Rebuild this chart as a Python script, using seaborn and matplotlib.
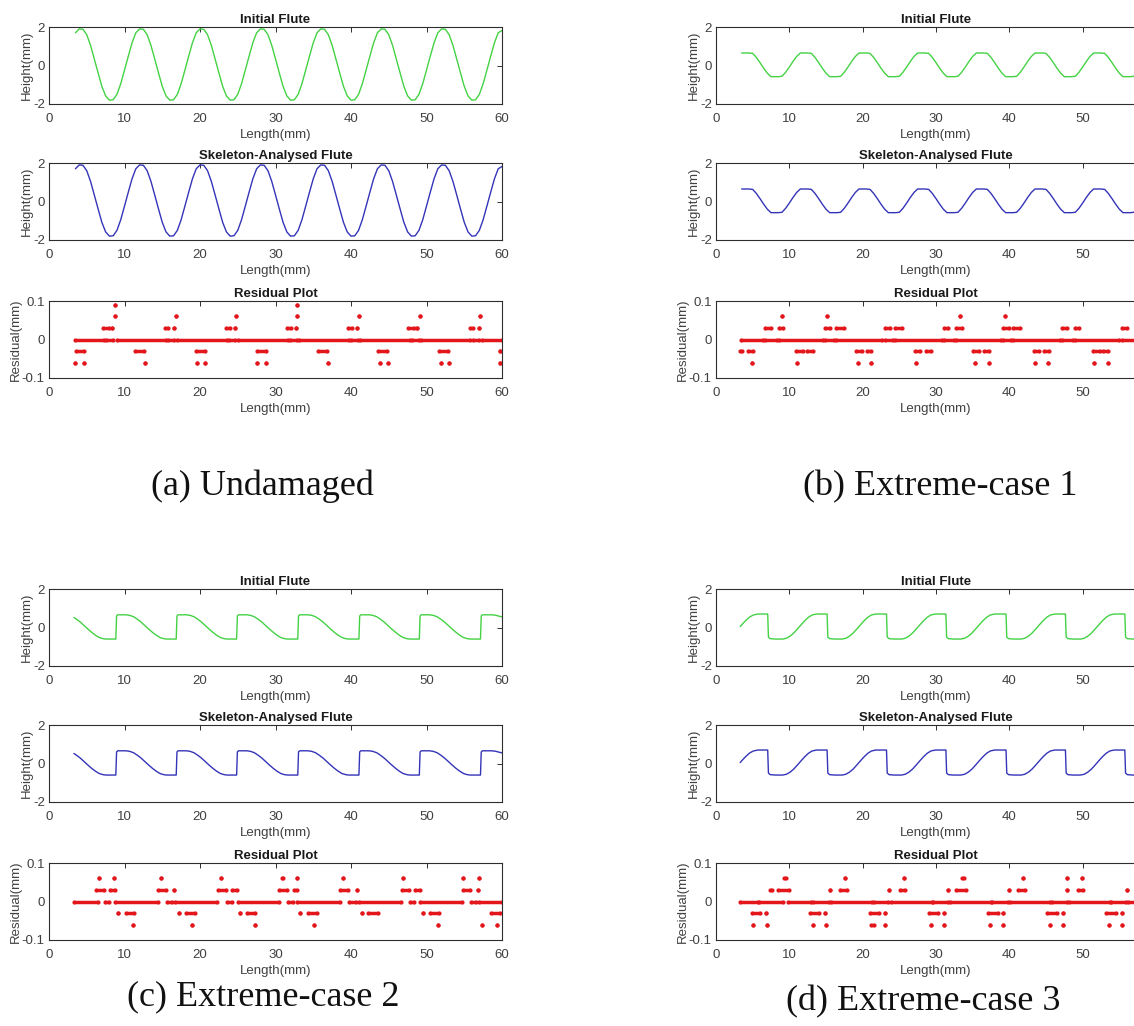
import numpy as np
import pandas as pd
import seaborn as sns
import matplotlib.pyplot as plt

# sample positions along the flute (mm) for the two smooth profiles
grid_mm = np.arange(3.5, 60.01, 0.5)

# (a) undamaged flute height (mm)
height_a = [1.70, 1.90, 1.88, 1.60, 1.05, 0.34, -0.38, -1.08, -1.58, -1.80, -1.78, -1.50, -0.95, -0.24, 0.48, 1.18,
            1.70, 1.90, 1.88, 1.60, 1.05, 0.34, -0.38, -1.08, -1.58, -1.80, -1.78, -1.50, -0.95, -0.24, 0.48, 1.18,
            1.70, 1.90, 1.88, 1.60, 1.05, 0.34, -0.38, -1.08, -1.58, -1.80, -1.78, -1.50, -0.95, -0.24, 0.48, 1.18,
            1.70, 1.90, 1.88, 1.60, 1.05, 0.34, -0.38, -1.08, -1.58, -1.80, -1.78, -1.50, -0.95, -0.24, 0.48, 1.18,
            1.70, 1.90, 1.88, 1.60, 1.05, 0.34, -0.38, -1.08, -1.58, -1.80, -1.78, -1.50, -0.95, -0.24, 0.48, 1.18,
            1.70, 1.90, 1.88, 1.60, 1.05, 0.34, -0.38, -1.08, -1.58, -1.80, -1.78, -1.50, -0.95, -0.24, 0.48, 1.18,
            1.70, 1.90, 1.88, 1.60, 1.05, 0.34, -0.38, -1.08, -1.58, -1.80, -1.78, -1.50, -0.95, -0.24, 0.48, 1.18,
            1.70, 1.82]

# (b) extreme-case 1 height (mm)
height_b = [0.65, 0.65, 0.65, 0.63, 0.42, 0.15, -0.14, -0.40, -0.58, -0.58, -0.58, -0.56, -0.35, -0.08, 0.21, 0.47,
            0.65, 0.65, 0.65, 0.63, 0.42, 0.15, -0.14, -0.40, -0.58, -0.58, -0.58, -0.56, -0.35, -0.08, 0.21, 0.47,
            0.65, 0.65, 0.65, 0.63, 0.42, 0.15, -0.14, -0.40, -0.58, -0.58, -0.58, -0.56, -0.35, -0.08, 0.21, 0.47,
            0.65, 0.65, 0.65, 0.63, 0.42, 0.15, -0.14, -0.40, -0.58, -0.58, -0.58, -0.56, -0.35, -0.08, 0.21, 0.47,
            0.65, 0.65, 0.65, 0.63, 0.42, 0.15, -0.14, -0.40, -0.58, -0.58, -0.58, -0.56, -0.35, -0.08, 0.21, 0.47,
            0.65, 0.65, 0.65, 0.63, 0.42, 0.15, -0.14, -0.40, -0.58, -0.58, -0.58, -0.56, -0.35, -0.08, 0.21, 0.47,
            0.65, 0.65, 0.65, 0.63, 0.42, 0.15, -0.14, -0.40, -0.58, -0.58, -0.58, -0.56, -0.35, -0.08, 0.21, 0.47,
            0.65, 0.65]

# (c) extreme-case 2: sharp rise, slow fall
length_c = [3.3, 3.65, 4.15, 4.65, 5.15, 5.65, 6.15, 6.65, 7.15, 7.55, 8.85,
            8.95, 9.1, 10.2, 10.7, 11.2, 11.7, 12.2, 12.7, 13.2, 13.7, 14.2, 14.7, 15.2, 15.6, 16.85,
            16.95, 17.1, 18.2, 18.7, 19.2, 19.7, 20.2, 20.7, 21.2, 21.7, 22.2, 22.7, 23.2, 23.6, 24.85,
            24.95, 25.1, 26.2, 26.7, 27.2, 27.7, 28.2, 28.7, 29.2, 29.7, 30.2, 30.7, 31.2, 31.6, 32.95,
            33.05, 33.2, 34.3, 34.8, 35.3, 35.8, 36.3, 36.8, 37.3, 37.8, 38.3, 38.8, 39.3, 39.7, 41.05,
            41.15, 41.3, 42.4, 42.9, 43.4, 43.9, 44.4, 44.9, 45.4, 45.9, 46.4, 46.9, 47.4, 47.8, 49.05,
            49.15, 49.3, 50.4, 50.9, 51.4, 51.9, 52.4, 52.9, 53.4, 53.9, 54.4, 54.9, 55.4, 55.8, 57.15,
            57.25, 57.4, 58.6, 59.1, 59.5, 60.0]
height_c = [0.52, 0.43, 0.28, 0.10, -0.08, -0.25, -0.40, -0.52, -0.58, -0.60, -0.60,
            0.60, 0.66, 0.66, 0.63, 0.56, 0.43, 0.28, 0.10, -0.08, -0.25, -0.40, -0.52, -0.58, -0.60, -0.60,
            0.60, 0.66, 0.66, 0.63, 0.56, 0.43, 0.28, 0.10, -0.08, -0.25, -0.40, -0.52, -0.58, -0.60, -0.60,
            0.60, 0.66, 0.66, 0.63, 0.56, 0.43, 0.28, 0.10, -0.08, -0.25, -0.40, -0.52, -0.58, -0.60, -0.60,
            0.60, 0.66, 0.66, 0.63, 0.56, 0.43, 0.28, 0.10, -0.08, -0.25, -0.40, -0.52, -0.58, -0.60, -0.60,
            0.60, 0.66, 0.66, 0.63, 0.56, 0.43, 0.28, 0.10, -0.08, -0.25, -0.40, -0.52, -0.58, -0.60, -0.60,
            0.60, 0.66, 0.66, 0.63, 0.56, 0.43, 0.28, 0.10, -0.08, -0.25, -0.40, -0.52, -0.58, -0.60, -0.60,
            0.60, 0.66, 0.66, 0.64, 0.60, 0.55]

# (d) extreme-case 3: slow rise, sharp fall
length_d = [3.3, 3.6, 4.1, 4.6, 5.1, 5.7, 7.05,
            7.15, 7.4, 8.1, 9.1, 9.6, 10.1, 10.6, 11.1, 11.6, 12.1, 12.6, 13.1, 13.7, 15.15,
            15.25, 15.5, 16.2, 17.2, 17.7, 18.2, 18.7, 19.2, 19.7, 20.2, 20.7, 21.2, 21.8, 23.25,
            23.35, 23.6, 24.3, 25.3, 25.8, 26.3, 26.8, 27.3, 27.8, 28.3, 28.8, 29.3, 29.9, 31.35,
            31.45, 31.7, 32.4, 33.4, 33.9, 34.4, 34.9, 35.4, 35.9, 36.4, 36.9, 37.4, 38.0, 39.55,
            39.65, 39.9, 40.6, 41.6, 42.1, 42.6, 43.1, 43.6, 44.1, 44.6, 45.1, 45.6, 46.2, 47.65,
            47.75, 48.0, 48.7, 49.7, 50.2, 50.7, 51.2, 51.7, 52.2, 52.7, 53.2, 53.7, 54.3, 55.75,
            55.85, 56.1, 56.8, 57.8, 58.3, 58.8, 59.3, 59.8, 60.0]
height_d = [0.05, 0.18, 0.38, 0.55, 0.65, 0.70, 0.70,
            -0.50, -0.58, -0.60, -0.60, -0.56, -0.45, -0.29, -0.08, 0.14, 0.35, 0.53, 0.65, 0.70, 0.70,
            -0.50, -0.58, -0.60, -0.60, -0.56, -0.45, -0.29, -0.08, 0.14, 0.35, 0.53, 0.65, 0.70, 0.70,
            -0.50, -0.58, -0.60, -0.60, -0.56, -0.45, -0.29, -0.08, 0.14, 0.35, 0.53, 0.65, 0.70, 0.70,
            -0.50, -0.58, -0.60, -0.60, -0.56, -0.45, -0.29, -0.08, 0.14, 0.35, 0.53, 0.65, 0.70, 0.70,
            -0.50, -0.58, -0.60, -0.60, -0.56, -0.45, -0.29, -0.08, 0.14, 0.35, 0.53, 0.65, 0.70, 0.70,
            -0.50, -0.58, -0.60, -0.60, -0.56, -0.45, -0.29, -0.08, 0.14, 0.35, 0.53, 0.65, 0.70, 0.70,
            -0.50, -0.58, -0.60, -0.60, -0.56, -0.45, -0.29, -0.08, 0.0]

# residual runs: (residual mm, from mm, to mm); a single dot has from == to
resid_a = [(0.09, 8.75, 8.75), (0.09, 32.9, 32.9),
           (0.06, 8.75, 8.75), (0.06, 16.8, 16.8), (0.06, 24.8, 24.8), (0.06, 32.9, 32.9),
           (0.06, 41.0, 41.0), (0.06, 49.1, 49.1), (0.06, 57.1, 57.1),
           (0.03, 7.2, 7.9), (0.03, 8.4, 8.4), (0.03, 15.4, 15.8), (0.03, 16.5, 16.5),
           (0.03, 23.5, 24.0), (0.03, 24.6, 24.6), (0.03, 31.5, 32.1), (0.03, 32.7, 32.7),
           (0.03, 39.6, 40.1), (0.03, 40.8, 40.8), (0.03, 47.6, 48.3), (0.03, 48.8, 48.8),
           (0.03, 55.7, 56.2), (0.03, 56.9, 56.9),
           (-0.03, 3.6, 4.6), (-0.03, 11.4, 12.6), (-0.03, 19.5, 20.7), (-0.03, 27.5, 28.7),
           (-0.03, 35.6, 36.8), (-0.03, 43.6, 44.8), (-0.03, 51.7, 52.9), (-0.03, 59.8, 59.8),
           (-0.06, 3.5, 3.5), (-0.06, 4.6, 4.6), (-0.06, 12.7, 12.7), (-0.06, 19.6, 19.6),
           (-0.06, 20.7, 20.7), (-0.06, 27.6, 27.6), (-0.06, 28.7, 28.7), (-0.06, 36.9, 36.9),
           (-0.06, 43.8, 43.8), (-0.06, 44.9, 44.9), (-0.06, 51.9, 51.9), (-0.06, 53.0, 53.0),
           (-0.06, 59.8, 59.8)]
zero_a = [(3.4, 7.3), (7.6, 8.5), (9.0, 15.5), (15.8, 16.6), (17.0, 23.6), (23.9, 24.7),
          (25.0, 31.6), (31.9, 32.8), (33.1, 39.7), (40.0, 40.9), (41.2, 47.8), (48.1, 49.0),
          (49.3, 55.8), (56.1, 57.0), (57.3, 60.0)]

resid_b = [(0.06, 9.05, 9.05), (0.06, 15.1, 15.1), (0.06, 33.3, 33.3), (0.06, 39.4, 39.4),
           (0.03, 6.7, 7.5), (0.03, 8.6, 9.2), (0.03, 14.9, 15.5), (0.03, 16.4, 17.4),
           (0.03, 23.0, 23.7), (0.03, 24.4, 25.3), (0.03, 31.1, 31.7), (0.03, 32.7, 33.5),
           (0.03, 39.2, 39.9), (0.03, 40.5, 41.5), (0.03, 47.2, 47.9), (0.03, 49.0, 49.5),
           (0.03, 55.3, 56.0),
           (-0.03, 3.3, 3.6), (-0.03, 4.3, 5.1), (-0.03, 10.9, 11.8), (-0.03, 12.4, 13.2),
           (-0.03, 19.1, 19.9), (-0.03, 20.6, 21.1), (-0.03, 27.1, 27.8), (-0.03, 28.6, 29.3),
           (-0.03, 35.1, 35.9), (-0.03, 36.5, 37.2), (-0.03, 43.3, 44.1), (-0.03, 44.7, 45.4),
           (-0.03, 51.4, 52.4), (-0.03, 52.8, 53.5),
           (-0.06, 4.9, 4.9), (-0.06, 11.1, 11.1), (-0.06, 19.3, 19.3), (-0.06, 21.1, 21.1),
           (-0.06, 27.3, 27.3), (-0.06, 35.3, 35.3), (-0.06, 37.2, 37.2), (-0.06, 43.5, 43.5),
           (-0.06, 45.3, 45.3), (-0.06, 51.5, 51.5), (-0.06, 53.4, 53.4)]
zero_b = [(3.4, 6.4), (6.7, 8.3), (8.6, 14.6), (14.9, 16.1), (16.4, 22.7), (23.0, 24.1),
          (24.4, 30.8), (31.1, 32.4), (32.7, 38.9), (39.2, 40.2), (40.5, 46.9), (47.2, 48.7),
          (49.0, 55.0), (55.3, 60.0)]

resid_c = [(0.06, 6.6, 6.6), (0.06, 8.65, 8.65), (0.06, 14.8, 14.8), (0.06, 22.8, 22.8),
           (0.06, 30.8, 31.0), (0.06, 32.8, 32.8), (0.06, 39.0, 39.0), (0.06, 46.9, 46.9),
           (0.06, 54.9, 54.9), (0.06, 56.9, 56.9),
           (0.03, 6.2, 7.3), (0.03, 8.1, 8.7), (0.03, 14.5, 15.5), (0.03, 16.5, 16.5),
           (0.03, 22.4, 23.5), (0.03, 24.3, 24.9), (0.03, 30.5, 31.5), (0.03, 32.4, 32.8),
           (0.03, 38.6, 39.6), (0.03, 40.8, 40.8), (0.03, 46.7, 47.7), (0.03, 48.5, 49.1),
           (0.03, 54.8, 55.8), (0.03, 56.8, 56.8),
           (-0.03, 9.2, 9.2), (-0.03, 10.2, 11.2), (-0.03, 17.2, 17.2), (-0.03, 18.1, 19.3),
           (-0.03, 25.3, 25.3), (-0.03, 26.2, 27.3), (-0.03, 33.2, 33.2), (-0.03, 34.3, 35.5),
           (-0.03, 41.4, 41.4), (-0.03, 42.3, 43.6), (-0.03, 49.5, 49.5), (-0.03, 50.4, 51.6),
           (-0.03, 58.6, 59.7),
           (-0.06, 11.1, 11.1), (-0.06, 19.0, 19.0), (-0.06, 27.3, 27.3), (-0.06, 35.1, 35.1),
           (-0.06, 51.5, 51.5), (-0.06, 57.4, 57.4), (-0.06, 59.3, 59.3)]
zero_c = [(3.3, 6.5), (7.4, 8.0), (8.8, 14.4), (15.6, 16.3), (16.7, 22.3), (23.6, 24.2),
          (25.0, 30.4), (31.6, 32.3), (32.9, 38.5), (39.7, 40.6), (41.0, 46.6), (47.8, 48.4),
          (49.2, 54.7), (55.9, 56.6), (57.0, 60.0)]

resid_d = [(0.06, 9.3, 9.5), (0.06, 17.6, 17.6), (0.06, 25.6, 25.6), (0.06, 33.5, 33.8),
           (0.06, 41.8, 41.8), (0.06, 47.8, 47.8), (0.06, 49.9, 49.9),
           (0.03, 7.4, 7.7), (0.03, 8.5, 9.9), (0.03, 15.5, 15.5), (0.03, 16.9, 17.8),
           (0.03, 23.6, 23.6), (0.03, 25.1, 25.8), (0.03, 31.7, 31.7), (0.03, 32.7, 34.1),
           (0.03, 39.9, 39.9), (0.03, 41.2, 42.1), (0.03, 47.9, 47.9), (0.03, 49.3, 50.1),
           (0.03, 56.0, 56.0),
           (-0.03, 4.9, 6.0), (-0.03, 6.8, 6.8), (-0.03, 12.8, 14.1), (-0.03, 14.9, 14.9),
           (-0.03, 21.0, 22.2), (-0.03, 23.0, 23.0), (-0.03, 29.1, 30.3), (-0.03, 31.1, 31.1),
           (-0.03, 37.1, 38.5), (-0.03, 39.2, 39.2), (-0.03, 45.1, 46.5), (-0.03, 47.3, 47.3),
           (-0.03, 53.2, 54.6), (-0.03, 55.4, 55.4),
           (-0.06, 5.1, 5.1), (-0.06, 6.9, 6.9), (-0.06, 13.2, 13.2), (-0.06, 15.0, 15.0),
           (-0.06, 21.2, 21.5), (-0.06, 23.0, 23.0), (-0.06, 29.3, 29.3), (-0.06, 31.1, 31.1),
           (-0.06, 37.4, 37.4), (-0.06, 39.2, 39.2), (-0.06, 45.5, 45.5), (-0.06, 47.3, 47.3),
           (-0.06, 53.6, 53.6), (-0.06, 55.4, 55.4)]
zero_d = [(3.3, 5.7), (5.9, 9.2), (9.8, 13.0), (13.2, 15.4), (15.7, 21.3), (21.5, 23.5),
          (23.8, 29.4), (29.6, 31.6), (31.9, 37.5), (37.7, 39.8), (40.1, 45.6), (45.8, 47.8),
          (48.1, 53.7), (53.9, 55.9), (56.2, 60.0)]

captions = ['(a) Undamaged', '(b) Extreme-case 1', '(c) Extreme-case 2', '(d) Extreme-case 3']

FIG_W, FIG_H = 1134, 1026
GREEN = '#44d244'
BLUE = '#3434b8'
RED = '#e3161b'
FRAME = '#2e2e2e'
TEXT = '#404040'


def px_axes(fig, left, top, width, height):
    return fig.add_axes([left / FIG_W, 1 - (top + height) / FIG_H, width / FIG_W, height / FIG_H])


def style_axis(ax, ylim, yticks, ylabel, label_off, title, xmax_label):
    ax.set_xlim(0, 60)
    ax.set_ylim(*ylim)
    ax.set_xticks(range(0, 61, 10))
    ax.set_xticklabels([str(t) if t <= xmax_label else '' for t in range(0, 61, 10)])
    ax.set_yticks(yticks)
    ax.set_yticklabels([('%g' % t) for t in yticks])
    ax.tick_params(direction='in', length=3.5, width=0.7, top=True, right=True,
                   color=FRAME, labelcolor=TEXT, labelsize=9.5)
    ax.tick_params(axis='x', pad=6.3)
    ax.tick_params(axis='y', pad=3)
    for sp in ax.spines.values():
        sp.set_color(FRAME)
        sp.set_linewidth(0.8)
        sp.set_visible(True)
    ax.set_title(title, fontsize=9.5, fontweight='bold', color='#1a1a1a', pad=3)
    ax.set_xlabel('Length(mm)', fontsize=9.5, color=TEXT, labelpad=3)
    ax.set_ylabel(ylabel, fontsize=9.5, color=TEXT)
    ax.yaxis.set_label_coords(label_off, 0.5)


def flute_axis(fig, left, top, width, x, y, color, title, xmax_label):
    ax = px_axes(fig, left, top, width, 77)
    sns.lineplot(x=x, y=y, ax=ax, color=color, linewidth=1.0, estimator=None, sort=False)
    style_axis(ax, (-2, 2), [-2, 0, 2], 'Height(mm)', -16 / width, title, xmax_label)
    return ax


def residual_axis(fig, left, top, width, runs, zero_runs, xmax_label):
    ax = px_axes(fig, left, top, width, 77)
    levels = [r[0] for r in runs] + [0.0] * len(zero_runs)
    starts = [r[1] for r in runs] + [z[0] for z in zero_runs]
    ends = [r[2] for r in runs] + [z[1] for z in zero_runs]
    ax.hlines(levels, starts, ends, colors=RED, linewidth=2.5)
    dots = pd.DataFrame({'x': starts + ends, 'y': levels + levels})
    sns.scatterplot(data=dots, x='x', y='y', ax=ax, color=RED, s=9, marker='o', linewidth=0)
    style_axis(ax, (-0.1, 0.1), [-0.1, 0, 0.1], 'Residual(mm)', -27 / width, 'Residual Plot', xmax_label)
    return ax


sns.set_theme(style='white')
plt.rcParams['font.family'] = ['Liberation Sans', 'DejaVu Sans']
plt.rcParams['axes.unicode_minus'] = False

fig = plt.figure(figsize=(FIG_W / 100, FIG_H / 100), dpi=100)
fig.patch.set_facecolor('white')

# left px, width px, top px, last labelled tick (right column is cut by the page edge)
panels = [
    (49, 453, 27, 60, grid_mm, height_a, resid_a, zero_a),
    (716, 440, 27, 50, grid_mm, height_b, resid_b, zero_b),
    (49, 453, 589, 60, length_c, height_c, resid_c, zero_c),
    (716, 440, 589, 50, length_d, height_d, resid_d, zero_d),
]
for left, width, top, xl, x, y, runs, zeros in panels:
    flute_axis(fig, left, top, width, x, y, GREEN, 'Initial Flute', xl)
    flute_axis(fig, left, top + 136, width, x, y, BLUE, 'Skeleton-Analysed Flute', xl)
    residual_axis(fig, left, top + 274, width, runs, zeros, xl)

caption_pos = [(262, 486), (940, 487), (263, 997), (923, 1002)]
for (cx, cy), text in zip(caption_pos, captions):
    fig.text(cx / FIG_W, 1 - cy / FIG_H, text, ha='center', va='center',
             fontsize=26, family='Liberation Serif', color='#111111')

fig.savefig('out.png', dpi=100, facecolor='white')
